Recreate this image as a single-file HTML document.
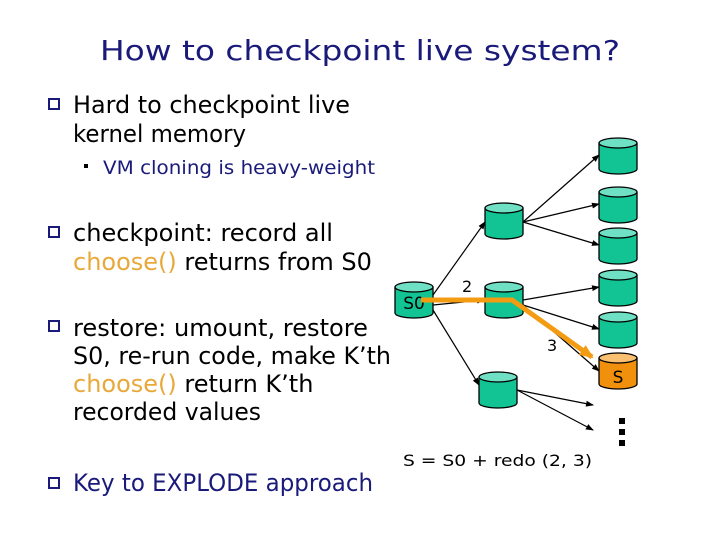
<!DOCTYPE html>
<html><head><style>body{margin:0;background:#fff}svg{display:block}</style></head><body>
<svg width="720" height="540" viewBox="0 0 720 540" xmlns="http://www.w3.org/2000/svg" font-family="'DejaVu Sans','Liberation Sans',sans-serif">
<defs>
<marker id="ar" markerWidth="8" markerHeight="8" refX="7" refY="4" orient="auto" markerUnits="userSpaceOnUse"><path d="M0,1 L8,4 L0,7 z" fill="#000"/></marker>
<marker id="ao" markerWidth="16" markerHeight="16" refX="12" refY="8" orient="auto" markerUnits="userSpaceOnUse"><path d="M0,2 L14,8 L0,14 z" fill="#f39c12"/></marker>
<g id="cyl"><path d="M0,5 V31 A19,5 0 0 0 38,31 V5" fill="#12c393" stroke="#000" stroke-width="1.3"/><ellipse cx="19" cy="5" rx="19" ry="5" fill="#6fe0c4" stroke="#000" stroke-width="1.3"/></g>
</defs>
<text x="360" y="60" font-size="28" fill="#1a1a7a" text-anchor="middle" textLength="520" lengthAdjust="spacingAndGlyphs">How to checkpoint live system?</text>
<g fill="none" stroke="#1a1a7a" stroke-width="2">
<rect x="49" y="99" width="10" height="10"/><rect x="49" y="227" width="10" height="10"/><rect x="49" y="321" width="10" height="10"/><rect x="49" y="478" width="10" height="10"/>
</g>
<rect x="84" y="164" width="4" height="4" fill="#000"/>
<g font-size="24" fill="#000">
<text x="73" y="113" textLength="277" lengthAdjust="spacingAndGlyphs">Hard to checkpoint live</text>
<text x="73" y="142" textLength="173" lengthAdjust="spacingAndGlyphs">kernel memory</text>
<text x="73" y="241" textLength="260" lengthAdjust="spacingAndGlyphs">checkpoint: record all</text>
<text x="73" y="270"><tspan fill="#e8a93a">choose()</tspan> returns from S0</text>
<text x="73" y="336" textLength="295" lengthAdjust="spacingAndGlyphs">restore: umount, restore</text>
<text x="73" y="364" textLength="318" lengthAdjust="spacingAndGlyphs">S0, re-run code, make K’th</text>
<text x="73" y="392"><tspan fill="#e8a93a">choose()</tspan> return K’th</text>
<text x="73" y="420" textLength="188" lengthAdjust="spacingAndGlyphs">recorded values</text>
<text x="73" y="491" fill="#1a1a7a" textLength="300" lengthAdjust="spacingAndGlyphs">Key to EXPLODE approach</text>
</g>
<text x="103" y="174" font-size="19" fill="#1a1a7a" textLength="272" lengthAdjust="spacingAndGlyphs">VM cloning is heavy-weight</text>
<g stroke="#000" stroke-width="1.2" marker-end="url(#ar)">
<line x1="433" y1="295" x2="485" y2="222"/>
<line x1="433" y1="305" x2="484" y2="300"/>
<line x1="433" y1="310" x2="479" y2="385"/>
<line x1="523" y1="222" x2="599" y2="155"/>
<line x1="523" y1="222" x2="599" y2="204"/>
<line x1="523" y1="222" x2="599" y2="245"/>
<line x1="523" y1="300" x2="599" y2="287"/>
<line x1="523" y1="305" x2="599" y2="329"/>
<line x1="523" y1="305" x2="599" y2="371"/>
<line x1="517" y1="390" x2="593" y2="405"/>
<line x1="517" y1="390" x2="593" y2="430"/>
</g>
<use href="#cyl" x="485" y="203"/>
<use href="#cyl" x="485" y="282"/>
<use href="#cyl" x="479" y="372"/>
<use href="#cyl" x="395" y="282"/>
<use href="#cyl" x="599" y="138"/>
<use href="#cyl" x="599" y="187"/>
<use href="#cyl" x="599" y="228"/>
<use href="#cyl" x="599" y="270"/>
<use href="#cyl" x="599" y="312"/>
<path d="M599,358 V384 A19,5 0 0 0 637,384 V358" fill="#f0900c" stroke="#000" stroke-width="1.3"/><ellipse cx="618" cy="358" rx="19" ry="5" fill="#f8c070" stroke="#000" stroke-width="1.3"/>
<text x="618" y="383" font-size="17" text-anchor="middle">S</text>
<text x="414" y="309" font-size="17" text-anchor="middle" fill="#000">S0</text>
<polyline points="421,300 512,300 592,357" fill="none" stroke="#f39c12" stroke-width="5" marker-end="url(#ao)"/>
<text x="462" y="292" font-size="16">2</text>
<text x="547" y="351" font-size="16">3</text>
<rect x="619" y="418" width="6" height="6" fill="#000"/><rect x="619" y="429" width="6" height="6" fill="#000"/><rect x="619" y="440" width="6" height="6" fill="#000"/>
<text x="403" y="466" font-size="16" textLength="189" lengthAdjust="spacingAndGlyphs">S = S0 + redo (2, 3)</text>
</svg>
</body></html>
